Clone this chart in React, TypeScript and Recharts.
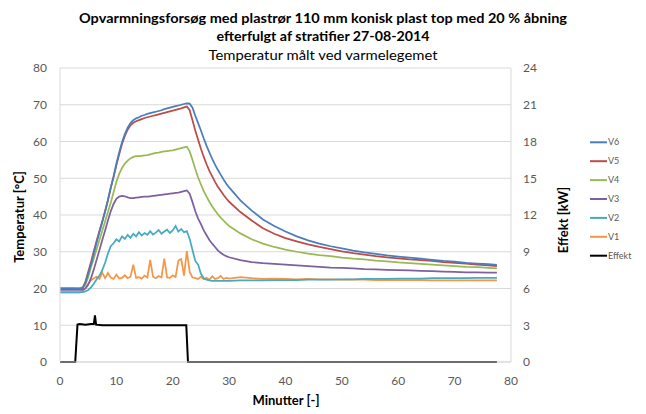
import React from 'react';
import { CartesianGrid, Line, LineChart, XAxis, YAxis } from 'recharts';

// time axis (minutes): every half minute up to 30, then every 2 minutes
const minutes = [
  0, 0.5, 1, 1.5, 2, 2.5, 3, 3.5, 4, 4.5,
  5, 5.5, 6, 6.5, 7, 7.5, 8, 8.5, 9, 9.5,
  10, 10.5, 11, 11.5, 12, 12.5, 13, 13.5, 14, 14.5,
  15, 15.5, 16, 16.5, 17, 17.5, 18, 18.5, 19, 19.5,
  20, 20.5, 21, 21.5, 22, 22.5, 23, 23.5, 24, 24.5,
  25, 25.5, 26, 26.5, 27, 27.5, 28, 28.5, 29, 29.5,
  30,
  32, 34, 36, 38, 40, 42, 44, 46, 48, 50, 52, 54,
  56, 58, 60, 62, 64, 66, 68, 70, 72, 74, 76, 77.5,
];

const v6 = [
  20, 20, 20, 20, 20, 20, 19.9, 20, 20.2, 21.5,
  24, 26.5, 29.5, 32.5, 35.3, 38, 41, 44, 47.5, 50.5,
  54, 57, 59.8, 62, 63.8, 65, 65.8, 66.3, 66.6, 67,
  67.2, 67.5, 67.7, 67.9, 68.1, 68.3, 68.5, 68.8, 69, 69.2,
  69.4, 69.6, 69.8, 70, 70.2, 70.4, 70.3, 69.2, 67, 65,
  63, 60.8, 58.8, 57, 55.3, 53.7, 52.3, 51, 49.7, 48.5,
  47.5,
  44, 41.2, 38.8, 37, 35.5, 34.2, 33.1, 32.2, 31.5, 30.9, 30.3, 29.8,
  29.4, 29, 28.7, 28.4, 28.1, 27.8, 27.5, 27.3, 27, 26.8, 26.6, 26.4,
];

const v5 = [
  19.8, 19.8, 19.8, 19.8, 19.8, 19.8, 19.8, 19.8, 20, 21.8,
  24.5, 27.2, 30.2, 33, 35.7, 38.3, 41, 44, 47.3, 50.3,
  53.5, 56.5, 59.3, 61.5, 63.2, 64.4, 65.1, 65.5, 65.8, 66.1,
  66.4, 66.6, 66.8, 67, 67.2, 67.4, 67.6, 67.8, 68, 68.2,
  68.4, 68.6, 68.8, 69, 69.3, 69.5, 68.5, 65.8, 63, 60.5,
  58, 55.8, 53.8, 52, 50.5, 49, 47.7, 46.6, 45.5, 44.5,
  43.6,
  40.8, 38.5, 36.4, 34.9, 33.7, 32.8, 32, 31.3, 30.7, 30.1, 29.6, 29.2,
  28.8, 28.5, 28.2, 27.9, 27.7, 27.5, 27.2, 27, 26.8, 26.5, 26.3, 26.1,
];

const v4 = [
  20.2, 20.2, 20.2, 20.2, 20.2, 20.2, 20.2, 20.2, 20.3, 21,
  23, 25.8, 28.2, 30.7, 33.2, 35.7, 38.2, 40.8, 43.3, 46.2,
  49, 51.2, 52.8, 54, 54.8, 55.4, 55.8, 56, 56, 56.1,
  56.2, 56.3, 56.5, 56.7, 56.9, 57, 57.2, 57.3, 57.4, 57.5,
  57.6, 57.8, 58, 58.2, 58.4, 58.6, 57.3, 55, 52.5, 50.2,
  48.3, 46.5, 45, 43.6, 42.3, 41.2, 40.2, 39.3, 38.5, 37.7,
  37,
  35, 33.4, 32.2, 31.3, 30.6, 30, 29.5, 29.1, 28.8, 28.4, 28.1, 27.9,
  27.6, 27.4, 27.1, 26.9, 26.7, 26.5, 26.3, 26.1, 25.9, 25.8, 25.6, 25.5,
];

const v3 = [
  19.6, 19.6, 19.6, 19.6, 19.6, 19.6, 19.6, 19.6, 19.6, 20,
  21, 22.8, 25.2, 27.8, 30.5, 33.2, 35.8, 38.5, 41, 43,
  44.4, 45, 45.2, 45.1, 44.8, 44.6, 44.6, 44.7, 44.8, 44.9,
  45, 45, 45.1, 45.2, 45.3, 45.4, 45.5, 45.6, 45.7, 45.8,
  45.9, 46, 46.1, 46.3, 46.5, 46.7, 45.8, 43.5, 41, 39,
  37.5, 35.8, 34.5, 33.2, 32.2, 31.3, 30.4, 29.7, 29.2, 28.8,
  28.5,
  27.7, 27.2, 26.9, 26.7, 26.5, 26.3, 26.1, 25.9, 25.7, 25.6, 25.5, 25.3,
  25.2, 25.1, 25, 24.9, 24.8, 24.7, 24.6, 24.5, 24.4, 24.4, 24.3, 24.3,
];

const v2 = [
  19, 19, 19, 19, 19, 19, 19, 19, 19, 19.2,
  19.6, 20.3, 21.3, 22.5, 23.5, 25, 27, 29.5, 31.5, 32.3,
  33.4, 32.8, 34.2, 33.5, 34.6, 33.8, 34.9, 34.2, 35.3, 34.4,
  35.1, 34.6, 35.6, 34.7, 35.2, 35.9, 34.9, 35.5, 36, 35.1,
  35.8, 37, 35.5, 36.2, 35.3, 35.6, 33.5, 30.5, 27.5, 26.5,
  24, 22.8, 22.4, 22.2, 22.1, 22.1, 22.1, 22.1, 22.1, 22.1,
  22.1,
  22.2, 22.2, 22.2, 22.3, 22.3, 22.3, 22.4, 22.4, 22.4, 22.5, 22.5, 22.6,
  22.6, 22.6, 22.7, 22.7, 22.7, 22.8, 22.8, 22.8, 22.8, 22.9, 22.9, 22.9,
];

const v1 = [
  18.9, 18.9, 18.9, 18.9, 18.9, 18.9, 18.9, 18.9, 19.2, 20.2,
  21.3, 22.2, 22.8, 23.2, 22.6, 24.3, 22.8, 24.2, 23, 22.6,
  23.8, 22.7, 22.9, 23.6, 22.8, 23.2, 26.5, 22.9, 23.1, 22.7,
  23.5, 23, 27.8, 23.2, 22.8, 23.4, 23, 28.1, 23, 22.9,
  23.6, 23.1, 27.6, 28, 23.5, 30.2, 24.5, 23, 22.8, 22.6,
  23.2, 22.5, 22.9, 22.4, 23.3, 22.6, 22.8, 23.4, 22.6, 22.9,
  22.7,
  23.1, 22.8, 22.6, 22.7, 22.6, 22.5, 22.6, 22.5, 22.5, 22.4, 22.4, 22.4,
  22.3, 22.3, 22.3, 22.3, 22.3, 22.2, 22.2, 22.2, 22.2, 22.2, 22.2, 22.2,
];

// heater power (kW, right axis)
const effektMinutes = [0, 2.7, 3.1, 3.5, 4.5, 5.5, 6.0, 6.2, 6.4, 7.5, 10, 13, 16, 19, 22.4, 22.7, 77.5];
const effektKW = [0, 0, 3.05, 3.1, 3.05, 3.1, 3.1, 3.8, 3.05, 3.0, 3.0, 3.0, 3.0, 3.0, 3.0, 0, 0];

const minuteTicks = [0, 10, 20, 30, 40, 50, 60, 70, 80];
const tempTicks = [0, 10, 20, 30, 40, 50, 60, 70, 80];
const kwTicks = [0, 3, 6, 9, 12, 15, 18, 21, 24];

const series = [
  { key: 'v1', name: 'V1', color: '#F79646' },
  { key: 'v2', name: 'V2', color: '#46AAC5' },
  { key: 'v3', name: 'V3', color: '#7D60A0' },
  { key: 'v4', name: 'V4', color: '#98B954' },
  { key: 'v5', name: 'V5', color: '#BE4B48' },
  { key: 'v6', name: 'V6', color: '#4A7EBB' },
];
const legendItems = [
  { name: 'V6', color: '#4A7EBB' },
  { name: 'V5', color: '#BE4B48' },
  { name: 'V4', color: '#98B954' },
  { name: 'V3', color: '#7D60A0' },
  { name: 'V2', color: '#46AAC5' },
  { name: 'V1', color: '#F79646' },
  { name: 'Effekt', color: '#000000' },
];

const rows = minutes.map((t, i) => ({ t, v1: v1[i], v2: v2[i], v3: v3[i], v4: v4[i], v5: v5[i], v6: v6[i] }));
const effektRows = effektMinutes.map((t, i) => ({ t, effekt: effektKW[i] }));

const font = 'Lato, "Open Sans", sans-serif';
const tickStyle = { fontSize: 12, fill: '#595959', fontFamily: font };

export default function App() {
  return (
    <div style={{ position: 'absolute', left: 0, top: 0, width: 646, height: 414, background: '#fff' }}>
      <LineChart width={646} height={414} data={rows} margin={{ top: 68, right: 95, bottom: 22, left: 0 }}>
        <CartesianGrid yAxisId='temp' vertical={false} stroke='#D9D9D9' />
        <XAxis
          dataKey='t'
          type='number'
          domain={[0, 80]}
          ticks={minuteTicks}
          height={30}
          tickSize={0}
          tickMargin={14}
          stroke='#D9D9D9'
          tick={tickStyle}
        />
        <YAxis
          yAxisId='temp'
          domain={[0, 80]}
          ticks={tempTicks}
          width={60}
          tickSize={0}
          tickMargin={13}
          stroke='#D9D9D9'
          tick={tickStyle}
        />
        <YAxis
          yAxisId='kw'
          orientation='right'
          domain={[0, 24]}
          ticks={kwTicks}
          width={40}
          tickSize={0}
          tickMargin={12}
          stroke='#D9D9D9'
          tick={{ ...tickStyle, textAnchor: 'start' }}
        />
        <Line
          yAxisId='kw'
          data={effektRows}
          dataKey='effekt'
          name='Effekt'
          stroke='#000000'
          strokeWidth={2}
          dot={false}
          isAnimationActive={false}
        />
        {series.map((s) => (
          <Line
            key={s.key}
            yAxisId='temp'
            dataKey={s.key}
            name={s.name}
            stroke={s.color}
            strokeWidth={1.75}
            dot={false}
            isAnimationActive={false}
          />
        ))}
      </LineChart>
      <svg
        width={646}
        height={414}
        style={{ position: 'absolute', left: 0, top: 0, pointerEvents: 'none' }}
        fontFamily={font}
      >
        <text x={323} y={23} textAnchor='middle' fontSize={14} fontWeight='bold' fill='#000' textLength={488} lengthAdjust='spacingAndGlyphs'>
          Opvarmningsforsøg med plastrør 110 mm konisk plast top med 20 % åbning
        </text>
        <text x={323} y={41} textAnchor='middle' fontSize={14} fontWeight='bold' fill='#000' textLength={213} lengthAdjust='spacingAndGlyphs'>
          efterfulgt af stratifier 27-08-2014
        </text>
        <text x={323} y={60} textAnchor='middle' fontSize={14} fill='#000' textLength={229} lengthAdjust='spacingAndGlyphs'>
          Temperatur målt ved varmelegemet
        </text>
        <text
          x={0}
          y={0}
          transform='translate(24 217) rotate(-90)'
          textAnchor='middle'
          fontSize={13}
          fontWeight='bold'
          fill='#000'
        >
          Temperatur [°C]
        </text>
        <text
          x={0}
          y={0}
          transform='translate(568 220) rotate(-90)'
          textAnchor='middle'
          fontSize={13}
          fontWeight='bold'
          fill='#000'
        >
          Effekt [kW]
        </text>
        <text x={286} y={405} textAnchor='middle' fontSize={13} fontWeight='bold' fill='#000'>
          Minutter [-]
        </text>
        {legendItems.map((item, i) => {
          const y = 142.3 + i * 18.9;
          return (
            <g key={item.name}>
              <line x1={590} x2={607} y1={y} y2={y} stroke={item.color} strokeWidth={2} />
              <text x={608} y={y + 3} fontSize={9} fill='#595959'>
                {item.name}
              </text>
            </g>
          );
        })}
      </svg>
    </div>
  );
}
